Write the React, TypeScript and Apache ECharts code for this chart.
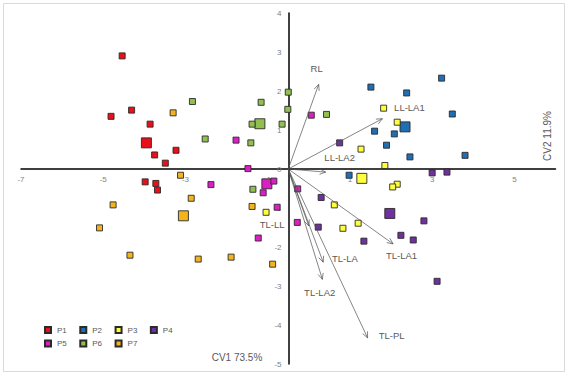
import React, { useEffect, useRef } from "react";
import * as echarts from "echarts";

// ---- data ----
const groupNames = ["P1", "P2", "P3", "P4", "P5", "P6", "P7"];

const p1 = [[-4.04, 2.9], [-3.81, 1.51], [-4.31, 1.35], [-3.36, 1.15], [-2.73, 0.48], [-3.25, 0.36], [-2.99, 0.15], [-3.48, -0.33], [-3.22, -0.37], [-3.18, -0.54]];
const p2 = [[2.01, 2.1], [2.88, 1.95], [3.73, 2.33], [3.99, 1.41], [2.1, 0.97], [2.58, 0.9], [2.39, 0.61], [2.96, 0.31], [4.3, 0.35], [1.48, -0.16]];
const p3 = [[2.32, 1.56], [2.65, 1.2], [1.77, 0.51], [2.35, 0.09], [2.65, -0.39], [2.54, -0.46], [1.12, -0.92], [1.7, -1.39], [1.33, -1.52], [-0.54, -1.11]];
const p4 = [[1.25, 0.67], [3.5, -0.1], [3.86, -0.08], [0.8, -0.73], [3.3, -1.33], [0.73, -1.49], [2.74, -1.7], [3.04, -1.82], [1.84, -1.85], [3.62, -2.88]];
const p5 = [[-1.27, 0.74], [-0.98, 0.01], [-1.88, -0.4], [-0.35, -0.31], [-0.61, -0.61], [-0.73, -1.77], [0.56, 1.38], [0.23, -0.51], [0.22, -1.37], [-0.27, -0.98]];
const p6 = [[-2.33, 1.73], [-0.66, 1.71], [0.0, 1.97], [-0.01, 1.53], [-0.15, 1.15], [-0.88, 1.15], [-2.02, 0.77], [-0.91, 0.67], [0.93, 1.4], [-0.86, -0.52]];
const p7 = [[-2.8, 1.44], [-2.62, -0.16], [-2.36, -0.75], [-4.26, -0.92], [-0.88, -0.96], [-4.59, -1.51], [-3.85, -2.21], [-2.19, -2.31], [-1.39, -2.26], [-0.38, -2.44]];
const groupPoints = [p1, p2, p3, p4, p5, p6, p7];

// group centroids (larger markers)
const centroids = [[-3.45, 0.67], [2.84, 1.08], [1.79, -0.24], [2.47, -1.14], [-0.52, -0.38], [-0.69, 1.16], [-2.55, -1.2]];

// loading vectors
const vectorNames = ["RL", "LL-LA1", "LL-LA2", "TL-LA1", "TL-LA", "TL-LA2", "TL-PL", "TL-LL"];
const vectorX = [0.74, 2.29, 0.91, 2.55, 0.85, 0.83, 1.93, 0.5];
const vectorY = [2.17, 1.29, -0.08, -1.92, -2.39, -2.83, -4.33, -1.46];

// axis tick labels
const xTickLabels = [-7, -5, -3, -1, 1, 3, 5];
const yTickLabels = [4, 3, 2, 1, 0, -1, -2, -3, -4, -5];

const xAxisTitle = "CV1 73.5%";
const yAxisTitle = "CV2 11.9%";

// ---- styles ----
const groupColors = ["#e8101a", "#1f6fb2", "#ffff3c", "#7030a0", "#dc1fc4", "#92c050", "#f4b41e"];
const labelOffsets = [[-2, -16], [27, -11], [14, -14.6], [8.4, 11.6], [21.7, -3.6], [-2.7, 13.4], [24, -2.3], [-36.7, -1.3]];
const FONT = "'Liberation Sans', Arial, sans-serif";
const TEXT_GRAY = "#595959";

export default function App() {
  const ref = useRef<HTMLDivElement>(null);

  useEffect(() => {
    if (!ref.current) return;
    const chart = echarts.init(ref.current, undefined, { renderer: "svg" });

    const scatterSeries = groupNames.map((name, gi) => ({
      name,
      type: "scatter",
      xAxisIndex: 0,
      yAxisIndex: 0,
      symbol: "rect",
      symbolSize: 6,
      itemStyle: { color: groupColors[gi], borderColor: "#2a2a2a", borderWidth: 0.9, opacity: 1 },
      emphasis: { disabled: true },
      z: 3,
      data: [
        { value: centroids[gi], symbolSize: 10 },
        ...groupPoints[gi].map((p) => ({ value: p })),
      ],
    }));

    const vectorData = vectorNames.map((n, i) => [vectorX[i], vectorY[i], i]);

    const hiddenAxis = { show: false };

    const option: any = {
      animation: false,
      backgroundColor: "#ffffff",
      textStyle: { fontFamily: FONT },
      grid: [
        // main plotting grid
        { left: 21, right: 14.5, top: 13, bottom: 12, containLabel: false },
        // grid whose bottom edge lies on the horizontal zero line: carries x tick labels
        { left: 21, right: 14.5, top: 13, height: 156, containLabel: false },
        // grid whose left edge lies on the vertical zero line: carries y tick labels
        { left: 288.5, right: 14.5, top: 13, bottom: 12, containLabel: false },
      ],
      xAxis: [
        {
          type: "value",
          gridIndex: 0,
          min: -6.5,
          max: 6.5,
          axisLine: { show: true, onZero: true, lineStyle: { color: "#000", width: 1.5 } },
          axisTick: { show: false },
          axisLabel: { show: false },
          splitLine: { show: false },
        },
        {
          type: "value",
          gridIndex: 1,
          position: "bottom",
          min: -7,
          max: 6,
          interval: 1,
          axisLine: { show: false, onZero: false },
          axisTick: { show: false },
          axisLabel: {
            fontSize: 8,
            color: "#7f7f7f",
            margin: 6,
            fontFamily: FONT,
            formatter: (v: number) => (xTickLabels.includes(v) ? String(v) : ""),
          },
          splitLine: { show: false },
        },
        { type: "value", gridIndex: 2, min: 0, max: 1, ...hiddenAxis },
      ],
      yAxis: [
        {
          type: "value",
          gridIndex: 0,
          min: -5,
          max: 4,
          interval: 1,
          axisLine: { show: true, onZero: true, lineStyle: { color: "#000", width: 1.5 } },
          axisTick: { show: false },
          axisLabel: { show: false },
          splitLine: { show: false },
        },
        { type: "value", gridIndex: 1, min: 0, max: 1, ...hiddenAxis },
        {
          type: "value",
          gridIndex: 2,
          position: "left",
          min: -5,
          max: 4,
          interval: 1,
          axisLine: { show: false, onZero: false },
          axisTick: { show: false },
          axisLabel: {
            fontSize: 8,
            color: "#7f7f7f",
            margin: 7,
            fontFamily: FONT,
            formatter: (v: number) => (yTickLabels.includes(v) ? String(v) : ""),
          },
          splitLine: { show: false },
        },
      ],
      legend: [
        {
          data: groupNames.slice(0, 4),
          left: 44,
          top: 326,
          padding: 0,
          itemWidth: 8,
          itemHeight: 6,
          itemGap: 12.5,
          icon: "path://M0,0h6v6h-6z",
          textStyle: { fontSize: 8, color: TEXT_GRAY, fontFamily: FONT },
          selectedMode: false,
        },
        {
          data: groupNames.slice(4),
          left: 44,
          top: 339.5,
          padding: 0,
          itemWidth: 8,
          itemHeight: 6,
          itemGap: 12.5,
          icon: "path://M0,0h6v6h-6z",
          textStyle: { fontSize: 8, color: TEXT_GRAY, fontFamily: FONT },
          selectedMode: false,
        },
      ],
      graphic: [
        {
          type: "rect",
          shape: { x: 3.5, y: 3.5, width: 561, height: 368 },
          style: { fill: "none", stroke: "#d9d9d9", lineWidth: 1 },
          z: -10,
          silent: true,
        },
        {
          type: "text",
          x: 237,
          y: 357,
          style: { text: xAxisTitle, fontSize: 10, fill: TEXT_GRAY, align: "center", verticalAlign: "middle", fontFamily: FONT },
          silent: true,
        },
        {
          type: "text",
          x: 547,
          y: 136,
          rotation: Math.PI / 2,
          style: { text: yAxisTitle, fontSize: 10, fill: TEXT_GRAY, align: "center", verticalAlign: "middle", fontFamily: FONT },
          silent: true,
        },
      ],
      series: [
        ...scatterSeries,
        {
          type: "custom",
          name: "vectors",
          xAxisIndex: 0,
          yAxisIndex: 0,
          z: 4,
          silent: true,
          itemStyle: { color: "#505050" },
          data: vectorData,
          renderItem: (params: any, api: any) => {
            const i = api.value(2);
            const o = api.coord([0, 0]);
            const p = api.coord([api.value(0), api.value(1)]);
            const ang = Math.atan2(p[1] - o[1], p[0] - o[0]);
            const L = 6.5;
            const a = 0.42;
            const h1 = [p[0] - L * Math.cos(ang - a), p[1] - L * Math.sin(ang - a)];
            const h2 = [p[0] - L * Math.cos(ang + a), p[1] - L * Math.sin(ang + a)];
            const off = labelOffsets[i];
            return {
              type: "group",
              children: [
                { type: "line", shape: { x1: o[0], y1: o[1], x2: p[0], y2: p[1] }, style: { stroke: "#505050", lineWidth: 0.7, fill: null } },
                { type: "polyline", shape: { points: [h1, p, h2] }, style: { stroke: "#505050", lineWidth: 0.7, fill: null } },
                {
                  type: "text",
                  x: p[0] + off[0],
                  y: p[1] + off[1],
                  style: { text: vectorNames[i], fontSize: 9.5, fill: TEXT_GRAY, align: "center", verticalAlign: "middle", fontFamily: FONT },
                },
              ],
            };
          },
        },
      ],
    };

    chart.setOption(option);
    return () => chart.dispose();
  }, []);

  return (
    <div
      ref={ref}
      style={{ position: "fixed", left: 0, top: 0, width: 570, height: 376, background: "#fff" }}
    />
  );
}
